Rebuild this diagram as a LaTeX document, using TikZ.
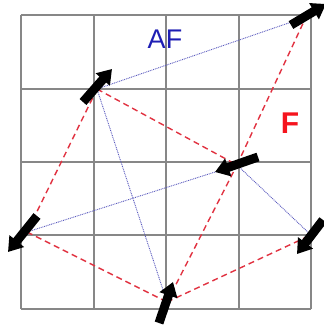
\documentclass[tikz,border=0pt]{standalone}
\usepackage{fontspec}
\setmainfont{Liberation Sans}
\usetikzlibrary{arrows.meta}
\definecolor{gridgray}{RGB}{135,135,135}
\definecolor{afblue}{RGB}{30,30,180}
\definecolor{fred}{RGB}{245,20,30}
\definecolor{dotblue}{RGB}{90,90,190}
\definecolor{dashred}{RGB}{225,50,65}
\tikzset{
  gridline/.style={draw=gridgray, line width=1.3pt},
  afbond/.style={draw=dotblue, line width=0.9pt, dash pattern=on 0.9pt off 0.9pt},
  fbond/.style={draw=dashred, line width=1.4pt, dash pattern=on 6pt off 4pt},
  spin/.style={draw=black, line width=9pt, -{Triangle[length=14pt,width=18pt]}},
}
\begin{document}
\begin{tikzpicture}[x=1pt,y=-1pt]
\useasboundingbox (0,0) rectangle (324,325);
% grid
\foreach \x in {21,94,166,239,311} \draw[gridline] (\x,15) -- (\x,309);
\foreach \y in {15,89,162,235,309} \draw[gridline] (21,\y) -- (311,\y);
% sites
\coordinate (s1) at (97,89);
\coordinate (s2) at (306,17);
\coordinate (s3) at (237,165);
\coordinate (s4) at (311,235);
\coordinate (s5) at (167,302);
\coordinate (s6) at (27,232);
% AF bonds
\draw[afbond] (s1) -- (s2);
\draw[afbond] (s1) -- (s5);
\draw[afbond] (s6) -- (s3);
\draw[afbond] (s3) -- (s4);
% F bonds
\draw[fbond] (s1) -- (s3);
\draw[fbond] (s1) -- (s6);
\draw[fbond] (s6) -- (s5);
\draw[fbond] (s5) -- (s3);
\draw[fbond] (s5) -- (s4);
\draw[fbond] (s3) -- (s2);
% spins
\coordinate (t1) at (83,102); \coordinate (h1) at (112,69);
\coordinate (t2) at (291,25); \coordinate (h2) at (326,4);
\coordinate (t3) at (258,157); \coordinate (h3) at (215,172);
\coordinate (t4) at (323,220); \coordinate (h4) at (297,254);
\coordinate (t5) at (159,323); \coordinate (h5) at (173,282);
\coordinate (t6) at (37,216); \coordinate (h6) at (8,252);
\foreach \i in {1,...,6} \draw[spin] (t\i) -- (h\i);
% labels
\node[text=afblue, font=\fontsize{27}{27}\selectfont] (af) at (165,39) {AF};
\node[text=fred, font=\bfseries\fontsize{30}{30}\selectfont] (f) at (290,123) {F};
\end{tikzpicture}
\end{document}
